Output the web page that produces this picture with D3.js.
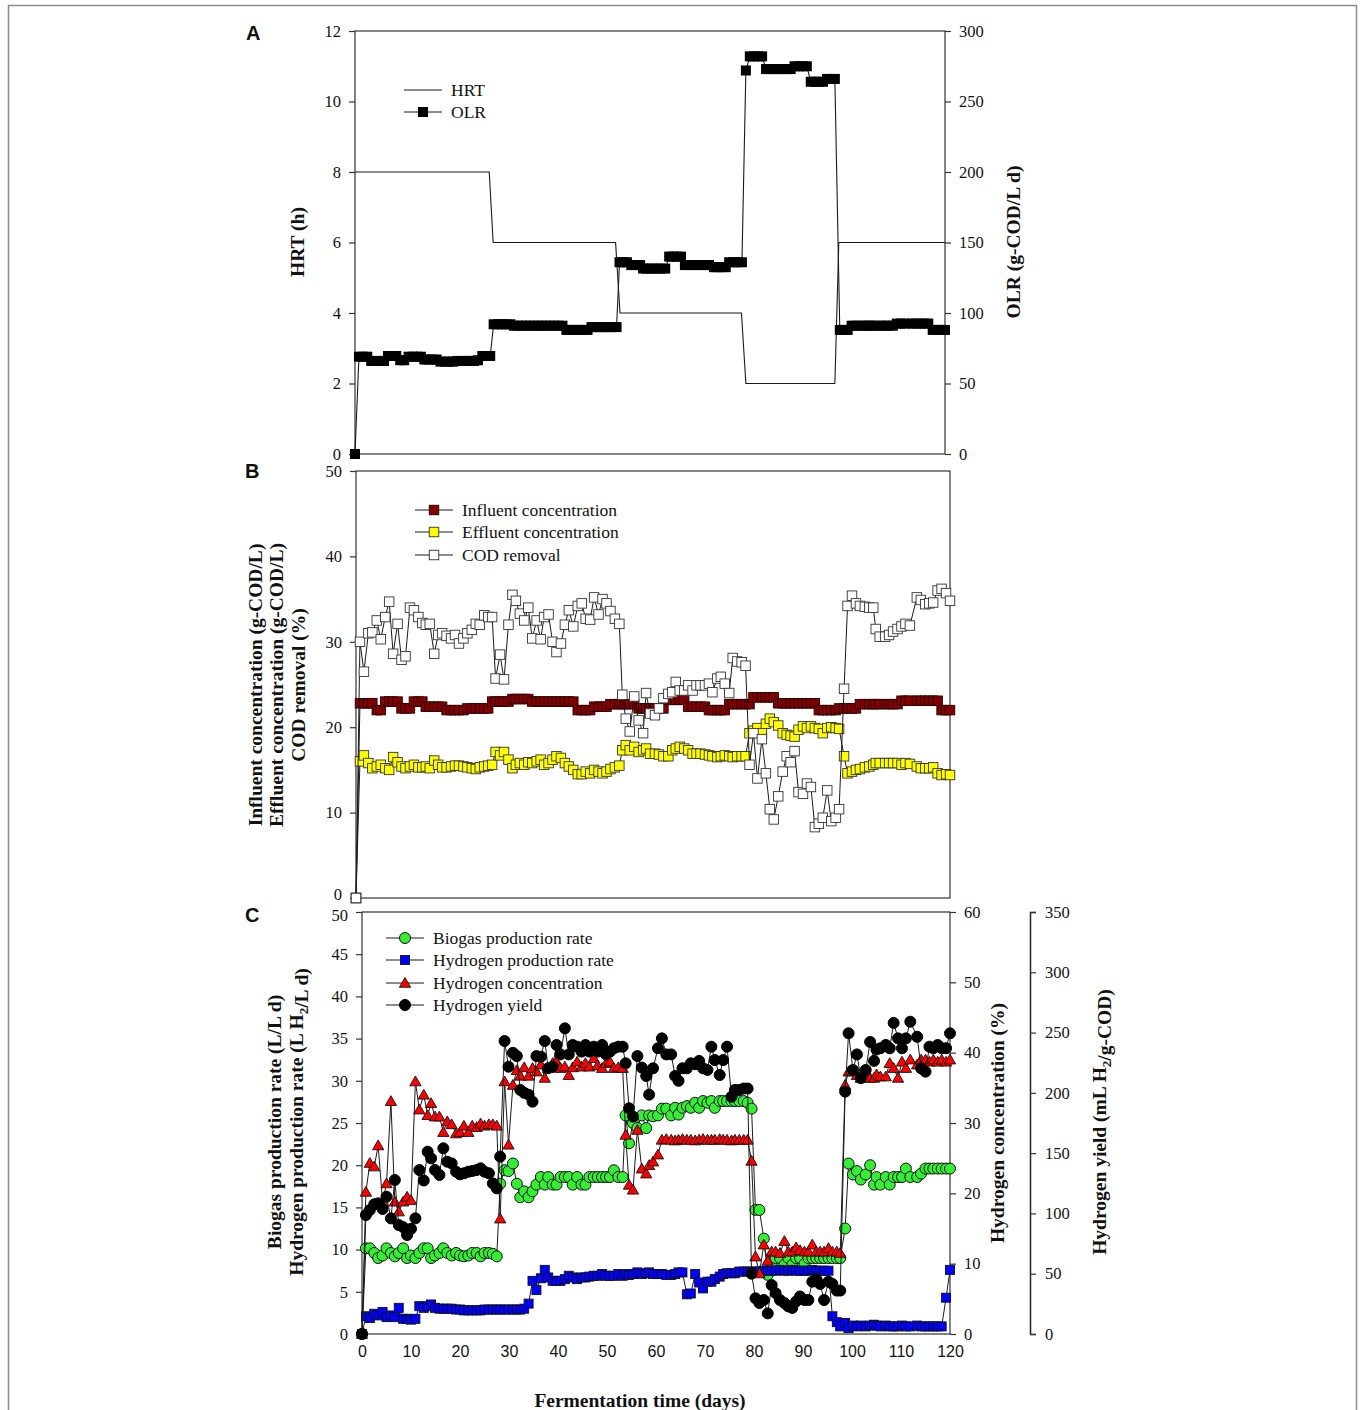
<!DOCTYPE html>
<html>
<head>
<meta charset="utf-8">
<script src="https://cdn.jsdelivr.net/npm/d3@7"></script>
<style>
  body { margin: 0; background: #fff; }
</style>
</head>
<body>
<div id="chart"></div>
<script>
// sampling days (shared by all three panels)
const days = [
  0, 0.8, 1.6, 2.5, 3.3, 4.2, 5.0, 5.9, 6.7, 7.5, 8.4, 9.2, 10.0, 10.9, 11.7, 12.6, 13.4, 14.1, 14.9, 15.8, 16.6, 17.4, 18.3, 19.2, 20.0, 20.8, 21.7, 22.5, 23.4, 24.2, 25.0, 25.9, 26.7, 27.5,
  28.2, 29.1, 29.9, 30.8, 31.6, 32.3, 33.1, 34.0, 34.8, 35.6, 36.5, 37.3, 38.0, 38.9, 39.7, 40.5, 41.4, 42.2, 43.0, 43.9, 44.8, 45.6, 46.4, 47.3, 48.1, 49.0, 49.8, 50.6, 51.4, 52.3, 53.2,
  53.8, 54.5, 55.3, 56.2, 57.1, 58.0, 58.6, 59.4, 60.4, 61.2, 62.1, 63.1, 63.9, 64.6, 65.4, 66.3, 67.1, 68.0, 68.8, 69.6, 70.5, 71.3, 72.0, 73.0, 73.7, 74.5, 75.4, 76.1, 77.0, 77.9, 78.7,
  79.5, 80.3, 81.1, 82.0, 82.8, 83.6, 84.4, 85.3, 86.2, 87.0, 87.8, 88.6, 89.4, 90.3, 91.1, 91.9, 92.7, 93.5, 94.3, 95.2, 96.0, 96.9, 97.6,
  98.6, 99.3, 100.2, 101.0, 101.8, 102.8, 103.7, 104.5, 105.0, 105.8, 106.9, 107.7, 108.5, 109.4, 110.2, 111.0, 111.9, 113.3, 114.1, 115.0, 115.8, 116.6, 117.5, 118.3, 119.2, 120.0
];

// panel A
const hrtDays = [0, 27.3, 28.1, 53.0, 53.9, 78.6, 79.5, 97.6, 98.4, 120];
const hrt = [8, 8, 6, 6, 4, 4, 2, 2, 6, 6];
const olr = [
  0, 69, 69, 69, 66, 66, 66, 66, 69.5, 69.5, 69.5, 66.5, 66.5, 69, 69, 69, 69, 67, 67, 67, 67, 65.5, 65.5, 65.5, 65.5, 66, 66, 66, 66, 66, 66.5, 69.5, 69.5, 69.5,
  92, 92, 92, 92, 92, 91, 91, 91, 91, 91, 91, 91, 91, 91, 91, 91, 91, 91, 88, 88, 88, 88, 88, 88, 90, 90, 90, 90, 90, 90, 90,
  136, 136, 136, 134, 134, 134, 131.5, 131.5, 131.5, 131.5, 131.5, 131.5, 140, 140, 140, 140, 134, 134, 134, 134, 134, 134, 134, 132.5, 132.5, 132.5, 132.5, 136, 136, 136, 136,
  272, 282, 282, 282, 282, 273, 273, 273, 273, 273, 273, 273, 275, 275, 275, 275, 264, 264, 264, 264, 266, 266, 266,
  88, 88, 88, 91, 91, 91, 91, 91, 91, 91, 91, 91, 91, 91, 92.5, 92.5, 92.5, 92.5, 92.5, 92.5, 92.5, 92.5, 88, 88, 88, 88
];

// panel B
const influent = [
  0, 22.8, 22.8, 22.8, 22.8, 22.0, 22.0, 23.0, 23.0, 23.0, 23.0, 22.2, 22.2, 22.2, 23.0, 23.0, 23.0, 22.4, 22.4, 22.4, 22.4, 22.4, 22.0, 22.0, 22.0, 22.0, 22.0, 22.2, 22.2, 22.2, 22.2, 22.2, 22.2, 23.0,
  23.0, 23.0, 23.0, 23.0, 23.3, 23.3, 23.3, 23.3, 23.3, 23.0, 23.0, 23.0, 23.0, 23.0, 23.0, 23.0, 23.0, 23.0, 23.0, 23.0, 22.0, 22.0, 22.0, 22.0, 22.4, 22.4, 22.4, 22.4, 22.7, 22.7, 22.7,
  22.7, 22.7, 22.7, 22.7, 22.2, 22.2, 22.2, 22.2, 22.2, 22.2, 22.2, 23.2, 23.2, 23.2, 23.2, 23.2, 22.4, 22.4, 22.4, 22.4, 22.4, 22.0, 22.0, 22.0, 22.0, 22.0, 22.7, 22.7, 22.7, 22.7, 22.7,
  22.7, 23.5, 23.5, 23.5, 23.5, 23.5, 23.5, 22.8, 22.8, 22.8, 22.8, 22.8, 22.8, 22.8, 22.8, 22.8, 22.8, 22.0, 22.0, 22.0, 22.0, 22.0, 22.2,
  22.2, 22.2, 22.2, 22.2, 22.7, 22.7, 22.7, 22.7, 22.7, 22.7, 22.7, 22.7, 22.7, 22.7, 23.1, 23.1, 23.1, 23.1, 23.1, 23.1, 23.1, 23.1, 23.1, 22.0, 22.0, 22.0
];
const effluent = [
  0, 16.0, 16.7, 15.8, 15.2, 15.4, 15.6, 15.2, 15.0, 16.5, 15.9, 15.4, 15.2, 15.4, 15.6, 15.3, 15.3, 15.4, 15.2, 16.1, 15.6, 15.3, 15.3, 15.4, 15.5, 15.5, 15.4, 15.3, 15.2, 15.1, 15.3, 15.4, 15.5, 15.6,
  17.1, 16.7, 17.1, 16.2, 15.2, 15.6, 15.8, 15.6, 15.9, 15.8, 16.0, 16.2, 15.6, 15.8, 16.2, 16.6, 16.4, 15.8, 15.4, 15.0, 14.5, 14.5, 14.8, 14.6, 15.0, 14.8, 14.6, 14.8, 15.1, 15.3, 15.5,
  17.3, 17.9, 17.3, 17.7, 17.1, 17.3, 17.5, 16.9, 16.9, 16.8, 16.6, 16.6, 17.3, 17.5, 17.7, 17.5, 17.3, 16.9, 16.9, 16.9, 16.8, 16.7, 16.6, 16.5, 16.6, 16.7, 16.6, 16.5, 16.6, 16.6, 16.6,
  19.3, 19.6, 19.9, 19.3, 20.4, 21.0, 20.6, 20.2, 19.3, 19.1, 19.0, 18.9, 19.7, 20.1, 19.9, 20.1, 19.9, 19.8, 19.3, 19.9, 20.0, 19.9, 19.8,
  16.6, 14.6, 14.8, 15.0, 15.1, 15.3, 15.4, 15.6, 15.8, 15.8, 15.8, 15.8, 15.8, 15.8, 15.6, 15.8, 15.7, 15.4, 15.2, 15.2, 15.2, 15.3, 14.6, 14.4, 14.5, 14.4
];
const codRemoval = [
  0, 30.0, 26.5, 31.0, 31.1, 32.5, 30.3, 32.9, 34.7, 28.6, 32.1, 27.9, 28.3, 34.0, 33.7, 32.9, 32.2, 32.0, 32.1, 28.6, 30.8, 31.0, 30.7, 30.4, 30.8, 29.8, 30.4, 31.0, 31.4, 32.1, 32.0, 33.1, 32.9, 32.9,
  25.7, 28.5, 25.6, 32.0, 35.5, 34.8, 33.3, 32.5, 34.0, 30.4, 32.5, 30.3, 32.9, 33.2, 30.0, 28.8, 29.8, 32.0, 33.7, 31.8, 34.2, 34.5, 32.7, 32.6, 35.2, 33.2, 35.0, 34.5, 33.6, 32.7, 32.1,
  23.8, 21.0, 19.5, 23.6, 20.8, 19.3, 24.0, 21.6, 21.4, 22.2, 23.4, 23.9, 24.1, 25.3, 24.3, 24.3, 24.9, 24.3, 24.9, 24.9, 24.9, 25.1, 24.1, 25.7, 25.9, 25.1, 24.0, 28.1, 27.7, 27.6, 27.2,
  15.6, 19.3, 14.0, 18.6, 14.6, 10.4, 9.2, 11.9, 14.8, 16.6, 15.9, 17.2, 12.4, 12.2, 13.4, 13.0, 8.3, 8.7, 9.4, 12.6, 9.0, 9.4, 10.4,
  24.5, 34.2, 35.4, 34.5, 34.2, 34.1, 34.0, 34.0, 31.5, 30.6, 30.6, 30.8, 31.2, 31.5, 31.8, 32.1, 31.9, 35.2, 34.9, 34.4, 34.5, 34.6, 36.0, 36.2, 35.7, 34.8
];

// panel C
const biogasRate = [
  0, 10.15, 10.15, 9.6, 9.0, 9.3, 10.15, 9.6, 9.2, 9.6, 10.15, 9.0, 9.3, 9.0, 9.6, 10.15, 10.15, 9.0, 9.3, 9.6, 10.15, 9.6, 9.3, 9.6, 9.3, 9.2, 9.3, 9.6, 9.6, 9.2, 9.6, 9.6, 9.5, 9.2,
  17.8, 19.4, 19.3, 20.2, 17.8, 16.2, 16.9, 16.2, 16.9, 17.7, 18.6, 17.7, 18.6, 17.7, 17.7, 18.6, 18.6, 18.6, 17.7, 18.6, 17.7, 17.7, 18.6, 18.6, 18.6, 18.6, 18.6, 18.6, 19.4, 18.6, 18.6,
  25.9, 22.6, 25.0, 24.4, 25.9, 24.4, 25.9, 25.8, 25.9, 26.7, 26.7, 25.9, 26.8, 26.0, 26.8, 27.0, 26.8, 27.4, 26.8, 27.6, 27.4, 27.6, 26.8, 27.6, 27.6, 27.6, 27.6, 27.6, 27.6, 27.6, 27.4,
  26.7, 14.7, 14.7, 11.3, 7.0, 8.2, 9.0, 9.0, 8.2, 9.0, 8.2, 9.0, 9.0, 8.3, 9.0, 9.0, 9.0, 9.0, 9.0, 9.0, 9.0, 9.0, 9.0,
  12.5, 20.2, 18.9, 19.3, 18.3, 18.9, 20.0, 17.7, 18.6, 17.7, 18.6, 17.7, 18.6, 18.6, 18.6, 19.6, 18.6, 18.6, 19.0, 19.6, 19.6, 19.6, 19.6, 19.6, 19.6, 19.6
];
const h2Rate = [
  0, 2.1, 1.9, 2.4, 2.2, 2.6, 2.0, 2.2, 2.0, 3.1, 1.8, 1.8, 1.7, 1.8, 3.3, 3.1, 3.3, 3.5, 3.1, 3.0, 3.0, 3.0, 3.0, 2.9, 2.9, 2.8, 2.8, 2.8, 2.8, 2.8, 2.9, 2.9, 2.9, 2.9,
  2.9, 2.9, 2.9, 2.9, 2.9, 2.9, 3.0, 3.6, 6.3, 5.2, 6.6, 7.6, 6.7, 6.3, 6.3, 6.3, 6.5, 6.9, 6.7, 6.5, 6.7, 6.7, 6.8, 6.9, 6.9, 7.1, 6.9, 6.9, 6.9, 7.1, 6.9,
  7.1, 7.0, 7.1, 7.3, 7.1, 7.2, 7.3, 7.1, 7.1, 7.1, 7.0, 7.0, 7.1, 7.3, 7.3, 4.7, 4.8, 7.1, 6.1, 5.4, 6.2, 6.2, 6.5, 6.8, 7.1, 7.2, 7.2, 7.2, 7.4, 7.4, 7.4,
  7.4, 7.4, 7.4, 7.5, 7.5, 7.5, 7.5, 7.6, 7.5, 7.5, 7.6, 7.5, 7.5, 7.5, 7.5, 7.6, 7.5, 7.5, 7.5, 7.5, 2.1, 1.4, 0.9,
  1.3, 0.7, 1.0, 0.9, 1.0, 0.9, 1.0, 1.1, 1.0, 0.9, 1.0, 0.9, 0.9, 0.9, 1.0, 0.9, 0.9, 1.0, 0.9, 0.9, 0.9, 0.9, 0.9, 0.9, 4.3, 7.6
];
const h2Conc = [
  0, 20.2, 24.3, 23.8, 26.8, 18.8, 21.4, 33.1, 18.8, 17.4, 18.8, 19.5, 19.0, 35.9, 31.9, 34.0, 31.1, 32.8, 30.9, 30.9, 28.7, 30.2, 29.8, 28.5, 28.7, 29.6, 28.7, 29.6, 29.4, 29.9, 29.6, 29.8, 29.8, 29.6,
  16.4, 35.9, 26.9, 35.4, 37.5, 36.7, 37.9, 36.7, 37.8, 37.3, 38.3, 36.4, 37.8, 38.5, 38.7, 37.8, 38.0, 36.8, 37.9, 38.7, 38.0, 38.5, 38.0, 39.2, 38.2, 37.8, 38.5, 38.7, 37.8, 37.9, 37.8,
  28.3, 21.2, 20.5, 29.0, 23.5, 22.8, 24.0, 24.5, 25.5, 27.6, 27.7, 27.6, 27.5, 27.6, 27.7, 27.6, 27.6, 27.5, 27.6, 27.7, 27.6, 27.6, 27.6, 27.7, 27.6, 27.6, 27.5, 27.6, 27.6, 27.6, 27.6,
  24.6, 11.0, 8.6, 12.7, 10.4, 11.7, 11.7, 11.5, 13.2, 11.7, 11.7, 12.3, 11.9, 11.7, 11.7, 12.7, 11.7, 11.7, 11.7, 12.2, 11.7, 11.7, 11.5,
  35.4, 37.3, 37.3, 36.8, 36.4, 37.0, 36.4, 36.4, 36.9, 36.6, 36.6, 38.5, 37.8, 36.4, 38.7, 37.8, 39.0, 38.3, 39.0, 39.0, 38.7, 39.0, 38.7, 39.0, 38.7, 39.0
];
const h2Yield = [
  0, 98.7, 102.8, 107.6, 108.4, 103.7, 113.9, 95.9, 127.7, 90.4, 88.6, 82.1, 87.2, 95.9, 136.0, 127.3, 151.2, 145.7, 136.0, 131.9, 154.0, 142.9, 141.5, 134.6, 132.4, 133.3, 134.6, 135.2, 136.0, 137.4, 134.6, 133.3, 124.9, 120.8,
  147.1, 243.0, 221.7, 233.2, 230.5, 202.4, 200.0, 198.5, 192.7, 230.5, 230.0, 243.0, 220.4, 221.7, 239.7, 231.9, 253.5, 231.9, 239.7, 238.3, 234.2, 239.7, 234.2, 238.3, 234.2, 239.7, 231.9, 234.2, 237.0, 238.3, 238.3,
  224.5, 187.2, 180.3, 230.5, 221.0, 214.0, 198.5, 220.4, 237.0, 245.2, 231.9, 231.9, 214.0, 210.0, 220.4, 220.4, 224.5, 223.8, 226.5, 220.4, 219.0, 238.3, 227.2, 214.8, 227.2, 238.3, 196.8, 202.4, 202.4, 203.6, 203.6,
  50, 29.6, 25.7, 28.2, 17.1, 40.6, 33.9, 28.2, 25.7, 22.9, 21.6, 27.0, 31.1, 28.2, 28.2, 43.4, 45.6, 41.5, 28.2, 43.4, 41.5, 36.0, 36.0,
  201, 249.4, 219, 231.9, 212.2, 219, 242.2, 226.5, 236, 237, 239.7, 237, 258, 245.2, 237, 245.2, 259, 246.5, 220.4, 217.6, 238.3, 237, 239.7, 237, 237, 249.4
];

// tick labels
const hrtTicks = [0, 2, 4, 6, 8, 10, 12];
const olrTicks = [0, 50, 100, 150, 200, 250, 300];
const codTicks = [0, 10, 20, 30, 40, 50];
const rateTicks = [0, 5, 10, 15, 20, 25, 30, 35, 40, 45, 50];
const concTicks = [0, 10, 20, 30, 40, 50, 60];
const yieldTicks = [0, 50, 100, 150, 200, 250, 300, 350];
const dayTicks = [0, 10, 20, 30, 40, 50, 60, 70, 80, 90, 100, 110, 120];

const serif = "'Liberation Serif', 'Times New Roman', serif";
const sans = "'Liberation Sans', Arial, sans-serif";

let svg = d3.select('#chart').append('svg')
    .attr('width', 1360)
    .attr('height', 1410);

// thin border round the whole figure
svg.append('rect')
    .attr('x', 8.5).attr('y', 5.5)
    .attr('width', 1348).attr('height', 1430)
    .attr('fill', 'none')
    .attr('stroke', '#8c8c8c')
    .attr('stroke-width', 1.5);

function frame(x, y) {
    svg.append('rect')
        .attr('x', x.range()[0]).attr('y', y.range()[1])
        .attr('width', x.range()[1] - x.range()[0])
        .attr('height', y.range()[0] - y.range()[1])
        .attr('fill', 'none')
        .attr('stroke', '#333')
        .attr('stroke-width', 1.2);
}

function styleAxis(g, family, size) {
    g.selectAll('.tick line').attr('stroke', '#333').attr('stroke-width', 1.2);
    g.selectAll('.tick text')
        .attr('fill', '#111')
        .style('font-family', family)
        .style('font-size', size);
}

function axis(gen, xPos, yPos, keepDomain) {
    let g = svg.append('g')
        .attr('transform', `translate(${xPos},${yPos})`)
        .call(gen);
    if (!keepDomain) {
        g.select('.domain').remove();
    } else {
        g.select('.domain').attr('stroke', '#222').attr('stroke-width', 1.5);
    }
    styleAxis(g, serif, '16.5px');
    return g;
}

function drawLine(x, y, xs, values, width) {
    svg.append('path')
        .datum(values)
        .attr('fill', 'none')
        .attr('stroke', '#1a1a1a')
        .attr('stroke-width', width || 1)
        .attr('d', d3.line()
            .x(function (d, i) { return x(xs[i]); })
            .y(function (d) { return y(d); }));
}

function drawMarkers(x, y, xs, values, shape, fill, size, stroke) {
    let g = svg.append('g');
    let pts = values.map(function (v, i) { return {x: x(xs[i]), y: y(v)}; });
    if (shape === 'square') {
        g.selectAll('rect').data(pts).enter().append('rect')
            .attr('x', function (d) { return d.x - size / 2; })
            .attr('y', function (d) { return d.y - size / 2; })
            .attr('width', size).attr('height', size)
            .attr('fill', fill)
            .attr('stroke', stroke || 'none')
            .attr('stroke-width', 0.9);
    } else if (shape === 'circle') {
        g.selectAll('circle').data(pts).enter().append('circle')
            .attr('cx', function (d) { return d.x; })
            .attr('cy', function (d) { return d.y; })
            .attr('r', size)
            .attr('fill', fill)
            .attr('stroke', stroke)
            .attr('stroke-width', 1);
    } else {
        g.selectAll('path').data(pts).enter().append('path')
            .attr('transform', function (d) { return `translate(${d.x},${d.y + 1})`; })
            .attr('d', d3.symbol(d3.symbolTriangle, size))
            .attr('fill', fill)
            .attr('stroke', stroke)
            .attr('stroke-width', 0.9);
    }
}

function legendItem(x0, y0, label, shape, fill, size, stroke) {
    svg.append('line')
        .attr('x1', x0).attr('x2', x0 + 38)
        .attr('y1', y0).attr('y2', y0)
        .attr('stroke', '#1a1a1a').attr('stroke-width', 1);
    if (shape) {
        let fx = d3.scaleLinear().domain([0, 1]).range([x0 + 19, x0 + 20]);
        let fy = d3.scaleLinear().domain([0, 1]).range([y0, y0 + 1]);
        drawMarkers(fx, fy, [0], [0], shape, fill, size, stroke);
    }
    svg.append('text')
        .attr('x', x0 + 47).attr('y', y0)
        .attr('dy', '0.35em')
        .style('font-family', serif)
        .style('font-size', '17.5px')
        .attr('fill', '#111')
        .text(label);
}

// rotated axis title; parts = [[text, isSub], ...]
function vTitle(xBase, yMid, parts) {
    let t = svg.append('text')
        .attr('transform', `translate(${xBase},${yMid}) rotate(-90)`)
        .attr('text-anchor', 'middle')
        .style('font-family', serif)
        .style('font-size', '19.5px')
        .style('font-weight', 'bold')
        .attr('fill', '#111');
    parts.forEach(function (p) {
        if (p[1]) {
            t.append('tspan').attr('dy', 5).style('font-size', '13px').text(p[0]);
            t.append('tspan').attr('dy', -5).text('');
        } else {
            t.append('tspan').text(p[0]);
        }
    });
}

function panelLabel(x, y, txt) {
    svg.append('text')
        .attr('x', x).attr('y', y)
        .style('font-family', sans)
        .style('font-size', '20px')
        .style('font-weight', 'bold')
        .attr('fill', '#111')
        .text(txt);
}

// ---------- panel A ----------
let xA = d3.scaleLinear().domain([0, 120]).range([355, 945]);
let yHrt = d3.scaleLinear().domain([0, 12]).range([454, 31]);
let yOlr = d3.scaleLinear().domain([0, 300]).range([454, 31]);

frame(xA, yHrt);
axis(d3.axisLeft(yHrt).tickValues(hrtTicks).tickSize(6).tickPadding(8), 355, 0);
axis(d3.axisRight(yOlr).tickValues(olrTicks).tickSize(6).tickPadding(8), 945, 0);

drawLine(xA, yHrt, hrtDays, hrt, 1.1);
drawLine(xA, yOlr, days, olr, 1.1);
drawMarkers(xA, yOlr, days, olr, 'square', '#000', 10);

legendItem(404, 90, 'HRT');
legendItem(404, 112, 'OLR', 'square', '#000', 10);

vTitle(304, 242, [['HRT (h)']]);
vTitle(1020, 242, [['OLR (g-COD/L d)']]);
panelLabel(246, 40, 'A');

// ---------- panel B ----------
let xB = d3.scaleLinear().domain([0, 120]).range([356, 950]);
let yB = d3.scaleLinear().domain([0, 50]).range([898, 471]);

frame(xB, yB);
let axB = axis(d3.axisLeft(yB).tickValues(codTicks).tickSize(6).tickPadding(8), 356, 0);
// lift the bottom "0" a touch so it clears the "50" of panel C
axB.selectAll('.tick text').filter(function (d) { return d === 0; }).attr('dy', '0.1em');

drawLine(xB, yB, days, influent);
drawMarkers(xB, yB, days, influent, 'square', '#800000', 9.5, '#2a0000');
drawLine(xB, yB, days, effluent);
drawMarkers(xB, yB, days, effluent, 'square', '#ffff00', 9.5, '#333');
drawLine(xB, yB, days, codRemoval);
drawMarkers(xB, yB, days, codRemoval, 'square', '#fff', 9.5, '#333');

legendItem(415, 510, 'Influent concentration', 'square', '#800000', 9.5, '#2a0000');
legendItem(415, 532, 'Effluent concentration', 'square', '#ffff00', 9.5, '#333');
legendItem(415, 555, 'COD removal', 'square', '#fff', 9.5, '#333');

vTitle(262, 685, [['Influent concentration (g-COD/L)']]);
vTitle(283, 685, [['Effluent concentration (g-COD/L)']]);
vTitle(305, 685, [['COD removal (%)']]);
panelLabel(245, 478, 'B');

// ---------- panel C ----------
let xC = d3.scaleLinear().domain([0, 120]).range([362, 950]);
let yRate = d3.scaleLinear().domain([0, 50]).range([1334, 912]);
let yConc = d3.scaleLinear().domain([0, 60]).range([1334, 912]);
let yYield = d3.scaleLinear().domain([0, 350]).range([1334, 912]);

frame(xC, yRate);
let axC = axis(d3.axisLeft(yRate).tickValues(rateTicks).tickSize(6).tickPadding(8), 362, 0);
axC.selectAll('.tick text').filter(function (d) { return d === 50; }).attr('dy', '0.5em');
axis(d3.axisRight(yConc).tickValues(concTicks).tickSize(6).tickPadding(8), 950, 0);
axis(d3.axisRight(yYield).tickValues(yieldTicks).tickSize(6).tickSizeOuter(6).tickPadding(9), 1030, 0, true);

let xg = svg.append('g')
    .attr('transform', 'translate(0,1334)')
    .call(d3.axisBottom(xC).tickValues(dayTicks).tickSize(0).tickPadding(12));
xg.select('.domain').remove();
styleAxis(xg, sans, '16px');

drawLine(xC, yRate, days, biogasRate);
drawMarkers(xC, yRate, days, biogasRate, 'circle', '#33ee33', 5.5, '#111');
drawLine(xC, yRate, days, h2Rate);
drawMarkers(xC, yRate, days, h2Rate, 'square', '#0000ff', 9, '#111');
drawLine(xC, yConc, days, h2Conc);
drawMarkers(xC, yConc, days, h2Conc, 'triangle', '#ff0000', 55, '#111');
drawLine(xC, yYield, days, h2Yield);
drawMarkers(xC, yYield, days, h2Yield, 'circle', '#000', 5.5, '#000');

legendItem(386, 938, 'Biogas production rate', 'circle', '#33ee33', 5.5, '#111');
legendItem(386, 960, 'Hydrogen production rate', 'square', '#0000ff', 9, '#111');
legendItem(386, 983, 'Hydrogen concentration', 'triangle', '#ff0000', 55, '#111');
legendItem(386, 1005, 'Hydrogen yield', 'circle', '#000', 5.5, '#000');

vTitle(281, 1122, [['Biogas production rate (L/L d)']]);
vTitle(303, 1122, [['Hydrogen production rate (L H'], ['2', true], ['/L d)']]);
vTitle(1004, 1123, [['Hydrogen concentration (%)']]);
vTitle(1106, 1122, [['Hydrogen yield (mL H'], ['2', true], ['/g-COD)']]);
panelLabel(245, 922, 'C');

svg.append('text')
    .attr('x', 640).attr('y', 1407)
    .attr('text-anchor', 'middle')
    .style('font-family', serif)
    .style('font-size', '19.5px')
    .style('font-weight', 'bold')
    .attr('fill', '#111')
    .text('Fermentation time (days)');
</script>
</body>
</html>
